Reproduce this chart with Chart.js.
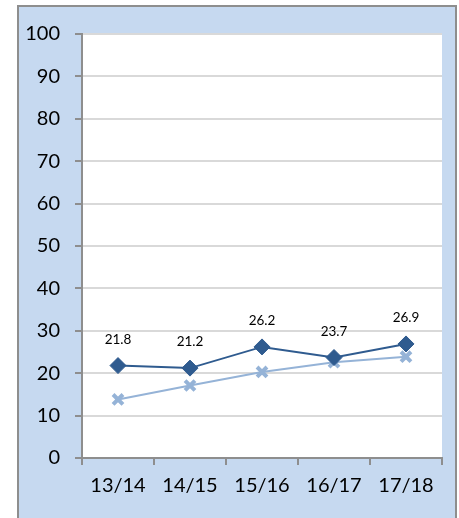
<!DOCTYPE html>
<html>
<head>
<meta charset="utf-8">
<script src="https://cdn.jsdelivr.net/npm/chart.js@4"></script>
<style>
html, body { margin: 0; padding: 0; background: #ffffff; }
#frame {
    position: absolute; left: 17px; top: 5px; width: 436px; height: 520px;
    background: #c6d9f0; border: 2px solid #8e8e8e; border-bottom: none;
}
#wrap { position: absolute; left: 0; top: 0; width: 436px; height: 511px; }
</style>
</head>
<body>
<div id="frame"><div id="wrap"><canvas id="lineChart"></canvas></div></div>
<script>
const seasons = ['13/14', '14/15', '15/16', '16/17', '17/18'];
const darkValues = [21.8, 21.2, 26.2, 23.7, 26.9];
const lightValues = [13.8, 17.1, 20.3, 22.6, 23.9];
const yTicks = [0, 10, 20, 30, 40, 50, 60, 70, 80, 90, 100];

// white plot area like the original
const plotBg = {
    id: 'plotBg',
    beforeDraw(chart) {
        const a = chart.chartArea;
        const c = chart.ctx;
        c.save();
        c.fillStyle = '#ffffff';
        c.fillRect(a.left, a.top, a.right - a.left, a.bottom - a.top);
        c.restore();
    }
};

// value labels over the dark series
const valueLabels = {
    id: 'valueLabels',
    afterDatasetsDraw(chart) {
        const c = chart.ctx;
        const meta = chart.getDatasetMeta(0);
        c.save();
        c.font = '13.5px Lato';
        c.fillStyle = '#000000';
        c.textAlign = 'center';
        c.textBaseline = 'middle';
        meta.data.forEach((pt, i) => {
            c.fillText(darkValues[i].toFixed(1), pt.x, pt.y - 26);
        });
        c.restore();
    }
};

let ctx = document.getElementById('lineChart');
let stock_Chart = new Chart(ctx, {
    type: 'line',
    data: {
        labels: seasons,
        datasets: [{
            label: 'dark',
            data: darkValues,
            borderColor: '#2f5b8f',
            backgroundColor: '#2f5b8f',
            borderWidth: 2,
            pointStyle: 'rectRot',
            pointRadius: 8,
            pointBorderWidth: 1,
        },
        {
            label: 'light',
            data: lightValues,
            borderColor: '#95b3d7',
            backgroundColor: '#95b3d7',
            borderWidth: 2,
            pointStyle: 'crossRot',
            pointRadius: 7,
            pointBorderWidth: 4,
        }]
    },
    options: {
        responsive: true,
        maintainAspectRatio: false,
        animation: false,
        layout: { padding: { top: 23, right: 13, left: 0, bottom: 0 } },
        plugins: { legend: { display: false }, tooltip: { enabled: false } },
        scales: {
            x: {
                offset: true,
                grid: { offset: true, drawOnChartArea: false, drawTicks: true, tickLength: 7, color: '#8e8e8e', lineWidth: 2 },
                border: { color: '#8e8e8e', width: 2 },
                ticks: { color: '#000000', font: { family: 'Lato', size: 20 }, padding: 9 },
                afterFit(scale) { scale.height = 60; }
            },
            y: {
                min: 0,
                max: 100,
                afterBuildTicks(scale) { scale.ticks = yTicks.map(v => ({ value: v })); },
                grid: { color: '#d9d9d9', lineWidth: 2, tickColor: '#8e8e8e', tickLength: 7 },
                border: { color: '#8e8e8e', width: 2 },
                ticks: { color: '#000000', font: { family: 'Lato', size: 20 }, padding: 15 },
                afterFit(scale) { scale.width = 63; }
            }
        }
    },
    plugins: [plotBg, valueLabels]
});
</script>
</body>
</html>
